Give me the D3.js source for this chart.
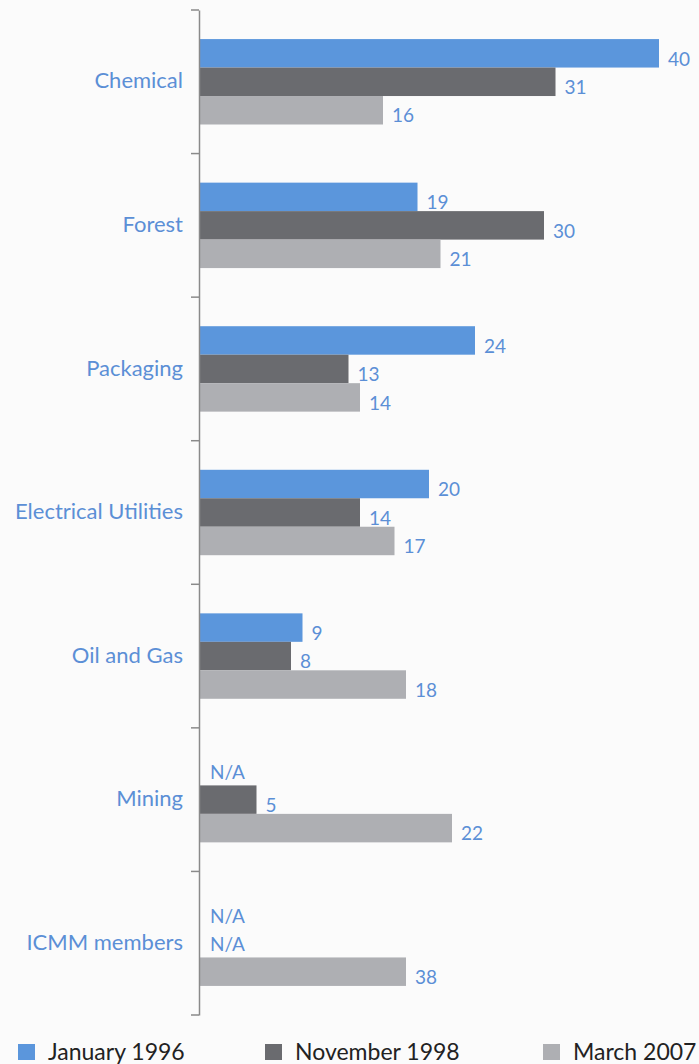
<!DOCTYPE html>
<html><head><meta charset="utf-8">
<script src="https://cdn.jsdelivr.net/npm/d3@7"></script>
<style>
html,body{margin:0;padding:0;background:#fbfbfb;}
svg{display:block;}
text{font-family:Lato,"Open Sans",sans-serif;}
</style></head>
<body>
<svg id="chart" width="699" height="1064"></svg>
<script>
const categories = ["Chemical","Forest","Packaging","Electrical Utilities","Oil and Gas","Mining","ICMM members"];
const seriesNames = ["January 1996","November 1998","March 2007"];
// bar lengths as drawn in the picture (null = no bar)
const jan1996 = [40,19,24,20,9,null,null];
const nov1998 = [31,30,13,14,8,5,null];
const mar2007 = [16,21,14,17,18,22,18];
// printed data labels
const jan1996Labels = ["40","19","24","20","9","N/A","N/A"];
const nov1998Labels = ["31","30","13","14","8","5","N/A"];
const mar2007Labels = ["16","21","14","17","18","22","38"];
const seriesValues = [jan1996, nov1998, mar2007];
const seriesLabels = [jan1996Labels, nov1998Labels, mar2007Labels];
const colors = ["#5b96dc","#6a6b6f","#aeafb3"];
const labelColor = "#5b8fd6";

const svg = d3.select("#chart");
const axisX = 199, plotTop = 10, plotBottom = 1015;

const y = d3.scaleBand().domain(categories).range([plotTop,plotBottom]).paddingInner(0).paddingOuter(0);
const groupH = y.bandwidth()*0.595;
const y2 = d3.scaleBand().domain(seriesNames).range([(y.bandwidth()-groupH)/2,(y.bandwidth()+groupH)/2]);
const x = d3.scaleLinear().domain([0,40]).range([axisX,659]);

const rows = categories.map((c,i)=>({cat:c, vals:seriesNames.map((s,j)=>({s, j, v:seriesValues[j][i], t:seriesLabels[j][i]}))}));

const g = svg.append("g");
const grp = g.selectAll("g.cat").data(rows).join("g").attr("class","cat")
  .attr("transform",d=>`translate(0,${y(d.cat)})`);

grp.selectAll("rect").data(d=>d.vals.filter(v=>v.v!=null)).join("rect")
  .attr("x",x(0)).attr("y",d=>y2(d.s)).attr("width",d=>x(d.v)-x(0)).attr("height",y2.bandwidth())
  .attr("fill",d=>colors[d.j]);

grp.selectAll("text.val").data(d=>d.vals).join("text").attr("class","val")
  .attr("x",d=>d.v==null? x(0)+11 : x(d.v)+9)
  .attr("y",d=>y2(d.s)+y2.bandwidth()-(d.v==null?6:2))
  .attr("fill",labelColor).attr("font-size",19)
  .text(d=>d.t);

// axis
const axis = d3.axisLeft(y).tickSize(0).tickFormat("");
const ax = svg.append("g").attr("transform",`translate(${axisX},0)`).call(axis);
ax.select(".domain").attr("stroke","#8a8a8a").attr("stroke-width",1.5);
const bounds = categories.map(c=>y(c)).concat([plotBottom]);
ax.selectAll("line.bt").data(bounds).join("line").attr("class","bt")
  .attr("x1",-8).attr("x2",0).attr("y1",d=>d).attr("y2",d=>d).attr("stroke","#8a8a8a").attr("stroke-width",1.5);
ax.selectAll("text.cl").data(categories).join("text").attr("class","cl")
  .attr("x",-16).attr("y",d=>y(d)+y.bandwidth()/2-1).attr("dy","0.35em")
  .attr("text-anchor","end").attr("fill",labelColor).attr("font-size",22).text(d=>d);

// legend
const legX = [18,265,543];
const lg = svg.append("g").selectAll("g").data(seriesNames).join("g")
  .attr("transform",(d,i)=>`translate(${legX[i]},1044)`);
lg.append("rect").attr("width",17).attr("height",16).attr("fill",(d,i)=>colors[i]);
lg.append("text").attr("x",30).attr("y",8).attr("dy","0.35em").attr("font-size",23).attr("fill","#222").text(d=>d);
</script>
</body></html>
